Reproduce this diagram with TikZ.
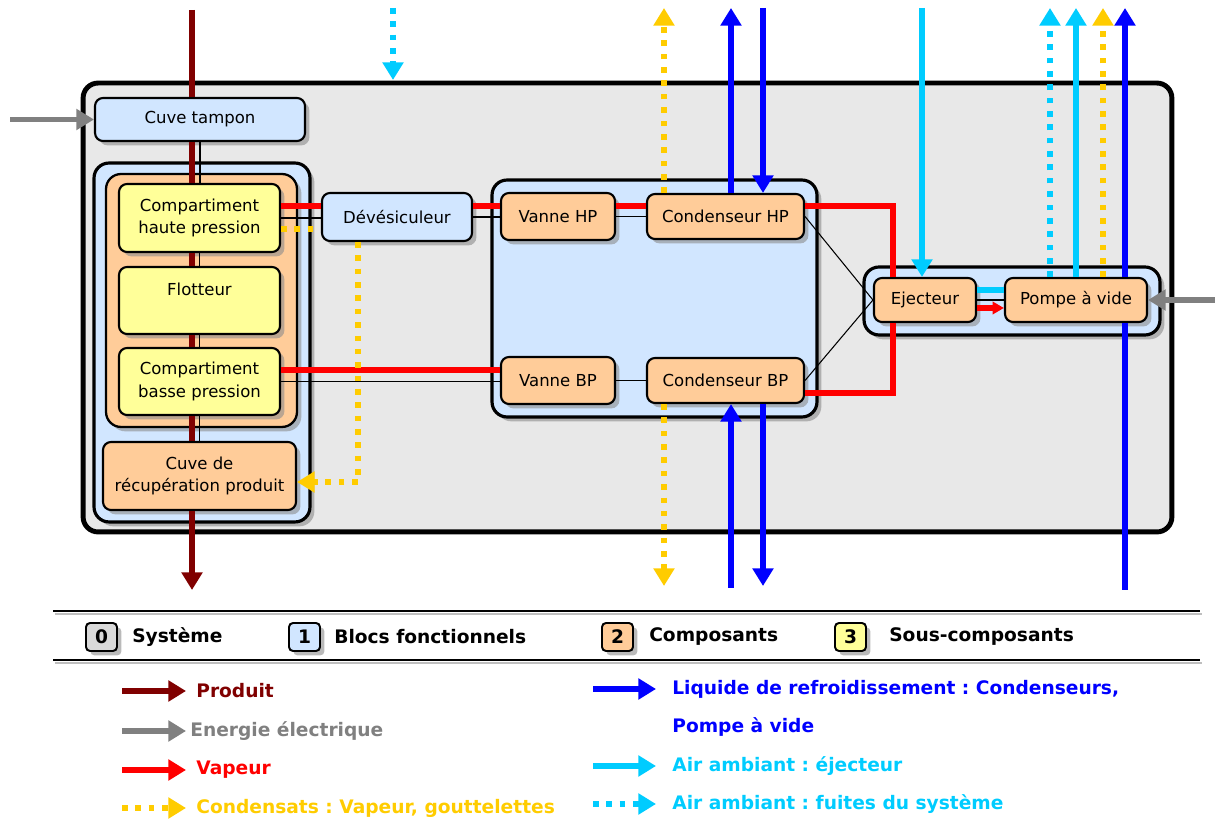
\documentclass[tikz,border=0pt]{standalone}
\usepackage{fontspec}
\setmainfont{DejaVu Sans}
\usepackage{tikz}
\usetikzlibrary{arrows.meta,shadows,positioning}
\frenchspacing

\definecolor{sysgray}{RGB}{232,232,232}
\definecolor{blocblue}{RGB}{209,230,255}
\definecolor{comporange}{RGB}{255,204,153}
\definecolor{sousyellow}{RGB}{255,255,153}
\definecolor{lvlgray}{RGB}{217,217,217}
\definecolor{produitc}{RGB}{128,0,0}
\definecolor{elecc}{RGB}{128,128,128}
\definecolor{vapeurc}{RGB}{255,0,0}
\definecolor{condc}{RGB}{255,204,0}
\definecolor{liqc}{RGB}{0,0,255}
\definecolor{airc}{RGB}{0,204,255}

\newcommand{\compfont}{\fontsize{9.4pt}{13pt}\selectfont}
\newcommand{\legfont}{\fontsize{10.6pt}{13pt}\selectfont\bfseries}

\tikzset{
  ombre/.style={drop shadow={shadow xshift=2.5pt,shadow yshift=-2.5pt,fill=black!45,opacity=0.6}},
  systeme/.style={draw,line width=2.8pt,rounded corners=0.3cm,fill=sysgray},
  bloc/.style={draw,line width=1.8pt,rounded corners=0.3cm,fill=blocblue,ombre},
  comp/.style={draw,line width=1.2pt,rounded corners=0.16cm,fill=comporange,ombre,font=\compfont,align=center,inner sep=0pt},
  souscomp/.style={comp,fill=sousyellow},
  compbleu/.style={comp,fill=blocblue},
  niveau/.style={draw,line width=1.1pt,rounded corners=0.08cm,minimum width=0.62cm,minimum height=0.56cm,inner sep=0pt,font=\legfont,ombre},
  legtitre/.style={font=\legfont,inner sep=0pt},
  legtexte/.style={font=\legfont,inner sep=0pt,anchor=west},
  lien/.style={black,line width=0.6pt},
  flux/.style={line width=3.4pt},
  produit/.style={flux,draw=produitc},
  elec/.style={flux,draw=elecc},
  vapeur/.style={line width=3pt,draw=vapeurc},
  condensat/.style={line width=3.2pt,draw=condc,dash pattern=on 3.2pt off 4.4pt},
  liquide/.style={flux,draw=liqc},
  air/.style={flux,draw=airc},
  fuite/.style={line width=3.2pt,draw=airc,dash pattern=on 3.2pt off 4.4pt},
  fleche/.style={-{Triangle[width=11.5pt,length=10pt]}},
  petitefleche/.style={-{Triangle[width=7pt,length=6.5pt]}}
}

\begin{document}
\begin{tikzpicture}[x=0.02cm,y=-0.02cm]
  \useasboundingbox (0,0) rectangle (1215,820);

  % Systeme et blocs fonctionnels
  \node[systeme,minimum width=21.78cm,minimum height=8.98cm] (sys) at (627.5,307.5) {};
  \node[bloc,minimum width=4.32cm,minimum height=7.18cm] (blocG) at (202,342.5) {};
  \node[bloc,fill=comporange,line width=1.3pt,minimum width=3.82cm,minimum height=5.06cm] (blocCuve) at (201.5,300.5) {};
  \node[bloc,minimum width=6.5cm,minimum height=4.74cm] (blocCond) at (654.5,298.5) {};
  \node[bloc,minimum width=5.92cm,minimum height=1.36cm] (blocVide) at (1012,301) {};

  % Composants
  \node[compbleu,minimum width=4.2cm,minimum height=0.86cm] (tampon) at (200,119.5) {Cuve tampon};
  \node[souscomp,minimum width=3.22cm,minimum height=1.36cm] (hp) at (199.5,218) {Compartiment\\haute pression};
  \node[souscomp,minimum width=3.22cm,minimum height=1.34cm] (flotteur) at (199.5,300.5) {Flotteur\\\mbox{}};
  \node[souscomp,minimum width=3.22cm,minimum height=1.34cm] (bp) at (199.5,381.5) {Compartiment\\basse pression};
  \node[comp,minimum width=3.86cm,minimum height=1.36cm] (recup) at (199.5,476) {Cuve de\\récupération produit};
  \node[compbleu,minimum width=3cm,minimum height=0.96cm] (dev) at (397,217) {Dévésiculeur};
  \node[comp,minimum width=2.28cm,minimum height=0.94cm] (vhp) at (558,216.5) {Vanne HP};
  \node[comp,minimum width=3.14cm,minimum height=0.9cm] (chp) at (725.5,216.5) {Condenseur HP};
  \node[comp,minimum width=2.28cm,minimum height=0.94cm] (vbp) at (558,380.5) {Vanne BP};
  \node[comp,minimum width=3.14cm,minimum height=0.9cm] (cbp) at (725.5,380.5) {Condenseur BP};
  \node[comp,minimum width=2.04cm,minimum height=0.88cm] (ejec) at (925,300) {Ejecteur};
  \node[comp,minimum width=2.84cm,minimum height=0.88cm] (pompe) at (1076,300) {Pompe à vide};

  % Entrees et sorties
  \coordinate (prodIn) at (192,10);
  \coordinate (prodOut) at (192,590);
  \coordinate (elecIn) at (10,119.5);
  \coordinate (elecIn2) at (1215,300);
  \coordinate (fuiteIn) at (393,8);
  \coordinate (fuiteSys) at (393,80);
  \coordinate (condHP) at (664,8);
  \coordinate (condBP) at (664,586);
  \coordinate (liqHPout) at (731,8);
  \coordinate (liqHPin) at (763,8);
  \coordinate (liqBPin) at (731,588);
  \coordinate (liqBPout) at (763,586);
  \coordinate (airEjec) at (922,8);
  \coordinate (fuiteOut) at (1050,8);
  \coordinate (airOut) at (1076,8);
  \coordinate (condPompe) at (1103,8);
  \coordinate (liqPin) at (1125,590);
  \coordinate (liqPout) at (1125,8);

  % Liens entre composants
  \draw[lien] (tampon.south) -- (tampon.south |- hp.north);
  \draw[lien] (hp.south) -- (flotteur.north);
  \draw[lien] (flotteur.south) -- (bp.north);
  \draw[lien] (bp.south) -- (recup.north);
  \draw[lien] (hp.east) -- (hp.east -| dev.west);
  \draw[lien] (dev.east) -- (dev.east -| vhp.west);
  \draw[lien] (vhp.east) -- (chp.west);
  \draw[lien] (bp.east) -- (bp.east -| vbp.west);
  \draw[lien] (vbp.east) -- (cbp.west);
  \draw[lien] (chp.east) -- (ejec.west);
  \draw[lien] (cbp.east) -- (ejec.west);
  \draw[lien] (ejec.east) -- (pompe.west);

  % Produit
  \draw[produit] (prodIn) -- (prodIn |- tampon.north);
  \draw[produit] (tampon.south -| prodIn) -- (hp.north -| prodIn);
  \draw[produit] (hp.south -| prodIn) -- (flotteur.north -| prodIn);
  \draw[produit] (flotteur.south -| prodIn) -- (bp.north -| prodIn);
  \draw[produit] (bp.south -| prodIn) -- (recup.north -| prodIn);
  \draw[produit,fleche] (recup.south -| prodIn) -- (prodOut);

  % Energie electrique
  \draw[elec,fleche] (elecIn) -- (tampon.west);
  \draw[elec,fleche] (elecIn2) -- (pompe.east);

  % Vapeur
  \draw[vapeur] ([yshift=0.24cm]hp.east) -- ([yshift=0.24cm]hp.east -| dev.west);
  \draw[vapeur] ([yshift=0.22cm]dev.east) -- ([yshift=0.22cm]dev.east -| vhp.west);
  \draw[vapeur] ([yshift=0.21cm]vhp.east) -- ([yshift=0.21cm]chp.west);
  \draw[vapeur] ([yshift=0.23cm]bp.east) -- ([yshift=0.23cm]bp.east -| vbp.west);
  \draw[vapeur] ([yshift=0.21cm]chp.east) -| ([xshift=-0.64cm]ejec.north);
  \draw[vapeur] ([yshift=-0.25cm]cbp.east) -| ([xshift=-0.64cm]ejec.south);
  \draw[vapeur,petitefleche] ([yshift=-0.16cm]ejec.east) -- ([yshift=-0.16cm]pompe.west);

  % Air ambiant
  \draw[air] ([yshift=0.2cm]ejec.east) -- ([yshift=0.2cm]pompe.west);
  \draw[air,fleche] (airEjec) -- (airEjec |- ejec.north);
  \draw[air,fleche] (pompe.north -| airOut) -- (airOut);
  \draw[fuite,fleche] (pompe.north -| fuiteOut) -- (fuiteOut);
  \draw[fuite,fleche] (fuiteIn) -- (fuiteSys);

  % Condensats
  \draw[condensat] ([yshift=-0.22cm]hp.east) -- ([yshift=-0.22cm]hp.east -| dev.west);
  \draw[condensat,fleche] ([xshift=-0.78cm]dev.south) |- ([yshift=-0.12cm]recup.east);
  \draw[condensat,fleche] (chp.north -| condHP) -- (condHP);
  \draw[condensat,fleche] (cbp.south -| condBP) -- (condBP);
  \draw[condensat,fleche] (pompe.north -| condPompe) -- (condPompe);

  % Liquide de refroidissement
  \draw[liquide,fleche] (chp.north -| liqHPout) -- (liqHPout);
  \draw[liquide,fleche] (liqHPin) -- (chp.north -| liqHPin);
  \draw[liquide,fleche] (liqBPin) -- (cbp.south -| liqBPin);
  \draw[liquide,fleche] (cbp.south -| liqBPout) -- (liqBPout);
  \draw[liquide] (liqPin) -- (pompe.south -| liqPin);
  \draw[liquide,fleche] (pompe.north -| liqPout) -- (liqPout);

  % Legende : niveaux
  \draw[black!25,line width=1.5pt] (55,614) -- (1202,614);
  \draw[black!25,line width=1.5pt] (55,663) -- (1202,663);
  \draw[line width=1.7pt] (53,611) -- (1200,611);
  \draw[line width=1.7pt] (53,660) -- (1200,660);
  \node[niveau,fill=lvlgray] (niv0) at (101.5,637) {0};
  \node[legtitre,right=0.28cm of niv0] (tSys) {Système};
  \node[niveau,fill=blocblue] (niv1) at (304.5,637) {1};
  \node[legtitre,right=0.26cm of niv1] (tBloc) {Blocs fonctionnels};
  \node[niveau,fill=comporange] (niv2) at (617.5,637) {2};
  \node[legtitre,right=0.3cm of niv2] (tComp) {Composants};
  \node[niveau,fill=sousyellow] (niv3) at (850.5,637) {3};
  \node[legtitre,right=0.44cm of niv3] (tSous) {Sous-composants};

  % Legende : flux
  \node[legtexte,text=produitc] (lProd) at (196,691) {Produit};
  \draw[produit,fleche] ([xshift=-1.48cm]lProd.west) -- ([xshift=-0.2cm]lProd.west);
  \node[legtexte,text=elecc] (lElec) at (190,731) {Energie électrique};
  \draw[elec,fleche] ([xshift=-1.36cm]lElec.west) -- ([xshift=-0.08cm]lElec.west);
  \node[legtexte,text=vapeurc] (lVap) at (196,770) {Vapeur};
  \draw[vapeur,fleche] ([xshift=-1.48cm]lVap.west) -- ([xshift=-0.2cm]lVap.west);
  \node[legtexte,text=condc] (lCond) at (196,808) {Condensats : Vapeur, gouttelettes};
  \draw[condensat,fleche] ([xshift=-1.48cm]lCond.west) -- ([xshift=-0.2cm]lCond.west);
  \node[legtexte,text=liqc] (lLiq) at (672,689) {Liquide de refroidissement : Condenseurs,};
  \node[legtexte,text=liqc] (lLiq2) at (672,727) {Pompe à vide};
  \draw[liquide,fleche] ([xshift=-1.58cm]lLiq.west) -- ([xshift=-0.32cm]lLiq.west);
  \node[legtexte,text=airc] (lAir) at (672,766) {Air ambiant : éjecteur};
  \draw[air,fleche] ([xshift=-1.58cm]lAir.west) -- ([xshift=-0.32cm]lAir.west);
  \node[legtexte,text=airc] (lFuite) at (672,804) {Air ambiant : fuites du système};
  \draw[fuite,fleche] ([xshift=-1.58cm]lFuite.west) -- ([xshift=-0.32cm]lFuite.west);
\end{tikzpicture}
\end{document}
